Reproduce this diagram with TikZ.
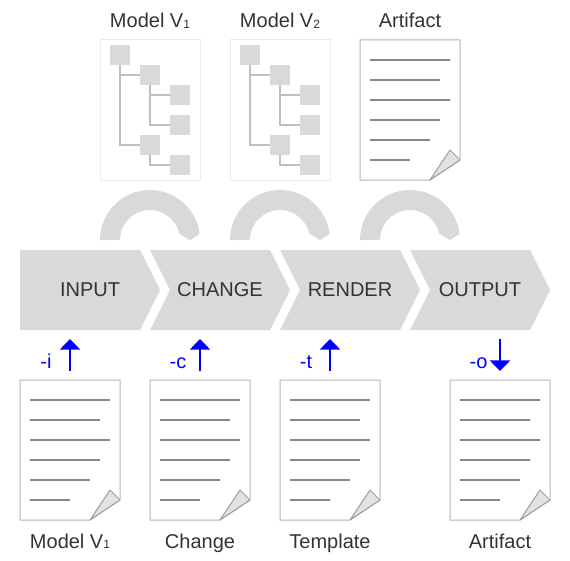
\documentclass[tikz,border=0pt]{standalone}
\usepackage{fontspec}
\setmainfont{Liberation Sans}
\usetikzlibrary{arrows.meta}
\definecolor{fillgray}{HTML}{D9D9D9}
\definecolor{txtgray}{HTML}{333333}
\definecolor{framegray}{HTML}{EBEBEB}
\definecolor{linkgray}{HTML}{BFBFBF}
\definecolor{docgray}{HTML}{B5B5B5}
\definecolor{rulegray}{HTML}{888888}
\definecolor{foldfill}{HTML}{E2E2E2}
\definecolor{foldline}{HTML}{A0A0A0}
\newcommand{\subone}[1]{\raisebox{-0.3pt}{\fontsize{9}{9}\selectfont #1}}
\tikzset{
  x=0.75pt,y=-0.75pt,
  shapefill/.style={fill=fillgray,draw=none},
  bigtext/.style={text=txtgray,font=\fontsize{15}{15}\selectfont,inner sep=0pt},
  captext/.style={text=txtgray,font=\fontsize{15}{15}\selectfont,inner sep=0pt,anchor=base},
  flagtext/.style={text=blue,font=\fontsize{15}{15}\selectfont,inner sep=0pt,anchor=base},
  flagarrow/.style={draw=blue,line width=1.5pt,-{Triangle[length=7.9pt,width=15pt,fill=blue]}},
  treebox/.style={fill=fillgray,draw=none},
  treelink/.style={draw=linkgray,line width=0.95pt},
  doc/.pic={
    \draw[draw=docgray,line width=0.75pt,fill=white] (0,0) -- (100,0) -- (100,120) -- (70,140) -- (0,140) -- cycle;
    \foreach \yy/\xe in {20/90,40/80,60/90,80/80,100/70,120/50}
      \draw[draw=rulegray,line width=1.5pt] (10,\yy) -- (\xe,\yy);
    \draw[draw=foldline,line width=0.75pt,fill=foldfill,line join=round] (70,140) -- (90,110) -- (100,120) -- cycle;
  },
  tree/.pic={
    \draw[draw=framegray,line width=0.75pt,fill=white] (0,0) rectangle (100,140);
    \draw[treelink] (20,25) -- (20,105) -- (50,105);
    \draw[treelink] (20,35) -- (50,35);
    \draw[treelink] (50,45) -- (50,85) -- (80,85);
    \draw[treelink] (50,55) -- (80,55);
    \draw[treelink] (50,115) -- (50,125) -- (80,125);
    \foreach \xa/\ya in {10/5,40/25,70/45,70/75,40/95,70/115}
      \fill[treebox] (\xa,\ya) rectangle ++(20,20);
  },
  loopshape/.pic={
    \fill[shapefill] (0,0) arc[start angle=180,end angle=353,radius=50] -- (90,0) -- (79.2,-6.5)
      arc[start angle=347.5,end angle=180,radius=30] -- cycle;
  }
}
\begin{document}
\begin{tikzpicture}
\useasboundingbox (0,0) rectangle (570,560);
% captions top
\node[captext] (captopa) at (150,28) {Model V\subone{1}};
\node[captext] (captopb) at (280,28) {Model V\subone{2}};
\node[captext] (captopc) at (410,28) {Artifact};
\pic at (100,40) {tree};
\pic at (230,40) {tree};
\pic at (360,40) {doc};
% loops
\pic at (100,240) {loopshape};
\pic at (230,240) {loopshape};
\pic at (360,240) {loopshape};
% chevrons
\fill[shapefill] (20,250) -- (140,250) -- (160,290) -- (140,330) -- (20,330) -- cycle;
\fill[shapefill] (150,250) -- (270,250) -- (290,290) -- (270,330) -- (150,330) -- (170,290) -- cycle;
\fill[shapefill] (280,250) -- (400,250) -- (420,290) -- (400,330) -- (280,330) -- (300,290) -- cycle;
\fill[shapefill] (410,250) -- (530,250) -- (550,290) -- (530,330) -- (410,330) -- (430,290) -- cycle;
\node[bigtext] (input) at (90,290) {INPUT};
\node[bigtext] (change) at (220,290) {CHANGE};
\node[bigtext] (render) at (350,290) {RENDER};
\node[bigtext] (output) at (480,290) {OUTPUT};
% arrows
\coordinate (ia) at (70,371); \coordinate (ib) at (70,339);
\coordinate (ca) at (200,371); \coordinate (cb) at (200,339);
\coordinate (ta) at (330,371); \coordinate (tb) at (330,339);
\coordinate (oa) at (500,339); \coordinate (ob) at (500,371);
\draw[flagarrow] (ia) -- (ib);
\draw[flagarrow] (ca) -- (cb);
\draw[flagarrow] (ta) -- (tb);
\draw[flagarrow] (oa) -- (ob);
\node[flagtext] (fi) at (46,368) {-i};
\node[flagtext] (fc) at (178,368) {-c};
\node[flagtext] (ft) at (306,368) {-t};
\node[flagtext] (fo) at (478.5,368) {-o};
% docs bottom
\pic at (20,380) {doc};
\pic at (150,380) {doc};
\pic at (280,380) {doc};
\pic at (450,380) {doc};
\node[captext] (capa) at (70,548) {Model V\subone{1}};
\node[captext] (capb) at (200,548) {Change};
\node[captext] (capc) at (330,548) {Template};
\node[captext] (capd) at (500,548) {Artifact};
\end{tikzpicture}
\end{document}
